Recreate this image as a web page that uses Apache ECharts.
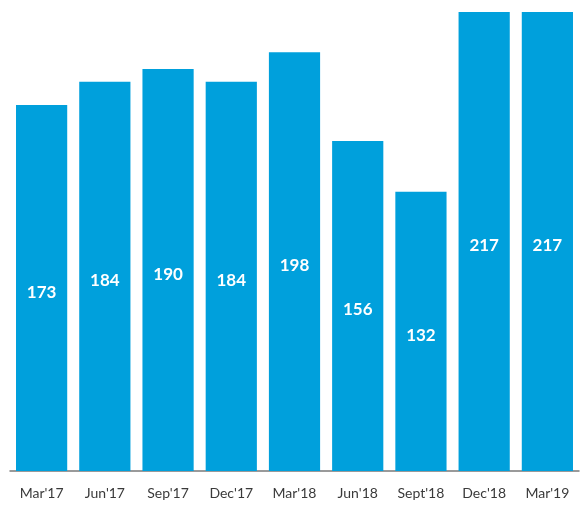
<!DOCTYPE html>
<html><head><meta charset="utf-8">
<script src="https://cdn.jsdelivr.net/npm/echarts@6/dist/echarts.min.js"></script>
<style>html,body{margin:0;padding:0;background:#fff}#c{width:584px;height:507px}</style>
</head><body><div id="c"></div>
<script>
var categories = ["Mar'17","Jun'17","Sep'17","Dec'17","Mar'18","Jun'18","Sept'18","Dec'18","Mar'19"];
var values = [173,184,190,184,198,156,132,217,217];
var chart = echarts.init(document.getElementById('c'), null, {renderer:'canvas'});
chart.setOption({
  animation:false,
  grid:{left:10,right:5,top:12,bottom:36,containLabel:false},
  xAxis:{type:'category',data:categories,
    axisLine:{show:true,lineStyle:{color:'#7a7a7a',width:1.5}},
    axisTick:{show:false},
    axisLabel:{interval:0,color:'#3a3a3a',fontSize:14,fontFamily:'Lato',margin:15}},
  yAxis:{type:'value',min:0,max:217,show:false,splitLine:{show:false}},
  series:[{type:'bar',data:values,barCategoryGap:'19%',
    itemStyle:{color:'#00A0DC'},
    label:{show:true,position:'inside',color:'#fff',fontSize:17,fontWeight:'bold',fontFamily:'Lato',offset:[0,4]}}]
});
</script></body></html>
